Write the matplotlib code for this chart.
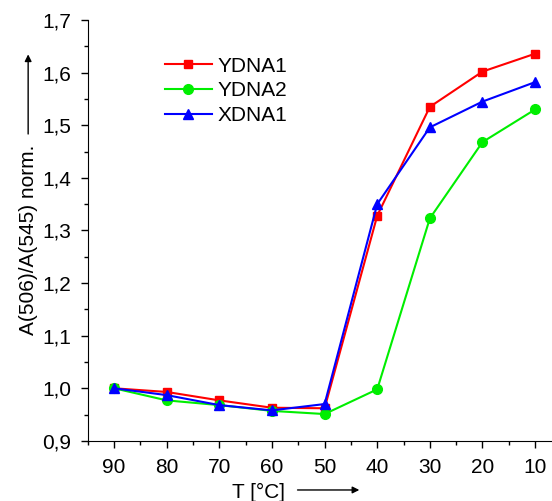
import matplotlib.pyplot as plt
from matplotlib.ticker import MultipleLocator

plt.rcParams['font.family'] = ['Liberation Sans', 'DejaVu Sans']

# Data
temps = [90, 80, 70, 60, 50, 40, 30, 20, 10]
ydna1 = [1.000, 0.993, 0.977, 0.963, 0.962, 1.328, 1.535, 1.602, 1.636]
ydna2 = [1.000, 0.977, 0.968, 0.957, 0.951, 0.998, 1.323, 1.468, 1.530]
xdna1 = [1.000, 0.987, 0.968, 0.958, 0.970, 1.350, 1.496, 1.545, 1.582]

fig = plt.figure(figsize=(5.52, 5.01), dpi=100)
ax = fig.add_axes([0.159, 0.12, 0.839, 0.84])

ax.plot(temps, ydna1, color='#ff0000', marker='s', markersize=6, lw=1.5, label='YDNA1')
ax.plot(temps, ydna2, color='#00ee00', marker='o', markersize=7, lw=1.5, label='YDNA2')
ax.plot(temps, xdna1, color='#0000ff', marker='^', markersize=7, lw=1.5, label='XDNA1')

ax.set_xlim(95, 7)
ax.set_ylim(0.9, 1.7)
ax.set_xticks(temps)
ax.xaxis.set_minor_locator(MultipleLocator(5))
ax.yaxis.set_major_locator(MultipleLocator(0.1))
ax.yaxis.set_minor_locator(MultipleLocator(0.05))
ax.yaxis.set_major_formatter(plt.FuncFormatter(lambda v, p: f'{v:.1f}'.replace('.', ',')))

for s in ['top', 'right']:
    ax.spines[s].set_visible(False)
ax.tick_params(which='major', direction='out', length=5, width=1, labelsize=15, pad=7)
ax.tick_params(which='minor', direction='out', length=3, width=1)

ax.legend(loc='upper left', bbox_to_anchor=(0.166, 0.913), frameon=False,
          borderpad=0, borderaxespad=0,
          fontsize=15, handlelength=2.26, handletextpad=0.3, labelspacing=0.28)

# axis labels with arrows
fig.text(0.052, 0.522, 'A(506)/A(545) norm.', rotation=90, fontsize=15,
         ha='center', va='center')
ax.annotate('', xy=(0.051, 0.897), xytext=(0.051, 0.727),
            xycoords='figure fraction',
            arrowprops=dict(arrowstyle='-|>', color='black', lw=1, mutation_scale=10))
fig.text(0.469, 0.018, 'T [°C]', fontsize=15, ha='center', va='center')
ax.annotate('', xy=(0.656, 0.022), xytext=(0.534, 0.022),
            xycoords='figure fraction',
            arrowprops=dict(arrowstyle='-|>', color='black', lw=1, mutation_scale=10))

fig.savefig('out.png', dpi=100)
